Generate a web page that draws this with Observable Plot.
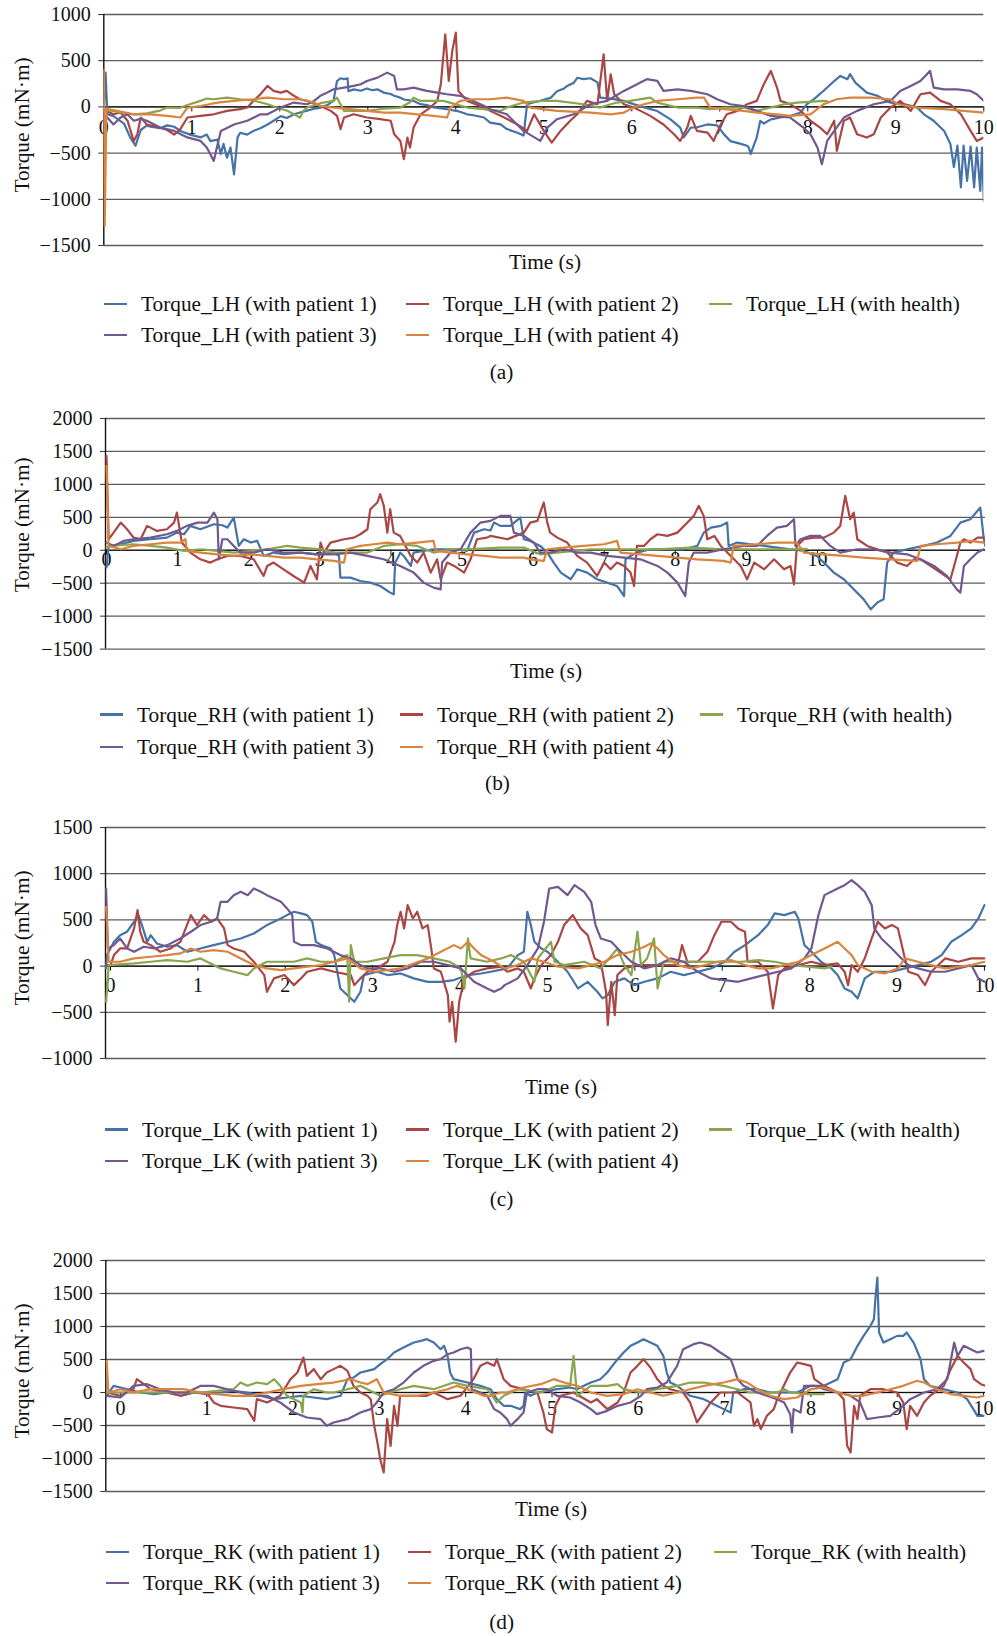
<!DOCTYPE html>
<html><head><meta charset="utf-8">
<script src="https://cdn.jsdelivr.net/npm/d3@7"></script>
<script src="https://cdn.jsdelivr.net/npm/@observablehq/plot@0.6"></script>
<style>
body{margin:0;background:#fff;}
#root{position:relative;width:997px;height:1636px;font-family:"Liberation Serif","DejaVu Serif",serif;color:#111;overflow:hidden;}
.abs{position:absolute;white-space:nowrap;font-size:21.3px;line-height:26px;height:26px;}
.sw{position:absolute;height:2.6px;width:23px;}
</style></head><body><div id="root"></div>
<script>
// ---------- categories / labels ----------
const joints = ["LH", "RH", "LK", "RK"];
const seriesNames = ["with patient 1", "with patient 2", "with health", "with patient 3", "with patient 4"];
const seriesColors = ["#4572A7", "#AA4643", "#89A54E", "#71588F", "#DB843D"];
const captions = ["(a)", "(b)", "(c)", "(d)"];
const xTicks = [0, 1, 2, 3, 4, 5, 6, 7, 8, 9, 10];
const yTicksA = [-1500, -1000, -500, 0, 500, 1000];
const yTicksB = [-1500, -1000, -500, 0, 500, 1000, 1500, 2000];
const yTicksC = [-1000, -500, 0, 500, 1000, 1500];
const yTicksD = [-1500, -1000, -500, 0, 500, 1000, 1500, 2000];

// ---------- (a) Torque_LH : [time s, torque mN·m] ----------
const lhP1 = [[0,-50],[0.02,370],[0.04,-80],[0.11,-100],[0.23,-180],[0.30,-330],[0.36,-420],[0.42,-250],[0.49,-200],[0.53,-215],[0.64,-230],[0.72,-200],[0.80,-215],[0.87,-260],[0.98,-300],[1.10,-330],[1.17,-300],[1.21,-370],[1.29,-355],[1.33,-510],[1.36,-400],[1.40,-550],[1.44,-440],[1.48,-730],[1.52,-330],[1.55,-280],[1.63,-300],[1.70,-260],[1.78,-230],[1.86,-190],[1.93,-150],[2.01,-100],[2.08,-120],[2.16,-80],[2.23,-60],[2.31,-40],[2.39,-20],[2.46,-10],[2.54,20],[2.61,65],[2.65,280],[2.69,310],[2.73,300],[2.77,310],[2.78,170],[2.84,190],[2.92,175],[2.99,200],[3.05,180],[3.11,190],[3.18,155],[3.26,140],[3.30,120],[3.37,100],[3.41,80],[3.48,70],[3.52,65],[3.60,30],[3.67,20],[3.75,-5],[3.83,-15],[3.90,-25],[4.02,-45],[4.13,-80],[4.20,-90],[4.32,-115],[4.39,-170],[4.51,-190],[4.58,-240],[4.70,-280],[4.77,-310],[4.81,30],[4.89,50],[4.96,65],[5.08,100],[5.15,170],[5.23,200],[5.27,230],[5.34,260],[5.38,315],[5.45,300],[5.53,310],[5.61,265],[5.64,100],[5.76,90],[5.91,65],[6.02,30],[6.14,-5],[6.29,-45],[6.44,-135],[6.55,-225],[6.59,-330],[6.67,-225],[6.74,-220],[6.86,-190],[6.97,-200],[7.05,-300],[7.12,-370],[7.24,-400],[7.31,-420],[7.33,-440],[7.35,-510],[7.42,-330],[7.46,-150],[7.50,-180],[7.58,-135],[7.69,-115],[7.80,-100],[7.92,-60],[7.99,30],[8.07,85],[8.18,175],[8.30,280],[8.37,335],[8.45,300],[8.48,355],[8.54,263],[8.67,155],[8.79,120],[8.94,45],[9.09,30],[9.24,-5],[9.32,-80],[9.43,-150],[9.55,-260],[9.62,-400],[9.66,-650],[9.70,-420],[9.74,-870],[9.77,-420],[9.81,-800],[9.85,-430],[9.89,-870],[9.92,-440],[9.96,-910],[9.98,-440],[10.0,-1020]];
const lhP2 = [[0,-20],[0.04,-50],[0.11,-80],[0.19,-60],[0.27,-150],[0.34,-370],[0.38,-300],[0.42,-115],[0.49,-190],[0.64,-225],[0.72,-250],[0.80,-300],[0.87,-240],[0.95,-115],[1.10,-97],[1.25,-80],[1.40,-43],[1.55,-25],[1.63,-7],[1.70,65],[1.78,137],[1.86,227],[1.93,173],[2.01,155],[2.08,173],[2.16,120],[2.23,83],[2.31,65],[2.46,10],[2.58,-43],[2.65,-97],[2.69,-240],[2.73,-115],[2.84,-80],[2.99,-115],[3.14,-133],[3.26,-150],[3.30,-296],[3.37,-368],[3.41,-566],[3.45,-332],[3.48,-440],[3.52,-224],[3.60,-80],[3.71,-7],[3.79,65],[3.83,245],[3.88,786],[3.92,281],[3.96,606],[4.00,804],[4.03,173],[4.13,65],[4.32,-7],[4.39,-43],[4.55,-115],[4.70,-190],[4.81,-260],[4.89,-80],[5.00,-260],[5.09,-386],[5.19,-260],[5.30,-150],[5.38,-80],[5.49,65],[5.61,29],[5.68,570],[5.72,65],[5.76,353],[5.80,137],[5.91,29],[6.02,-7],[6.10,-43],[6.21,-97],[6.36,-190],[6.48,-296],[6.55,-368],[6.63,-224],[6.67,-97],[6.74,-260],[6.86,-278],[6.93,-368],[7.01,-190],[7.08,-80],[7.20,-43],[7.31,29],[7.42,65],[7.50,245],[7.58,390],[7.65,209],[7.69,65],[7.80,29],[7.92,-43],[8.03,-150],[8.14,-224],[8.22,-296],[8.30,-150],[8.33,-476],[8.41,-151],[8.48,-115],[8.56,-296],[8.67,-332],[8.75,-296],[8.83,-115],[8.94,-7],[9.05,65],[9.17,-43],[9.28,137],[9.39,155],[9.51,65],[9.62,29],[9.74,-79],[9.85,-260],[9.92,-368],[10.0,-332]];
const lhH = [[0,-30],[0.08,-40],[0.19,-60],[0.34,-80],[0.49,-70],[0.64,-40],[0.72,-7],[0.87,-10],[0.95,20],[1.10,65],[1.17,90],[1.25,83],[1.40,100],[1.55,83],[1.70,70],[1.86,29],[2.01,-20],[2.08,-40],[2.16,-80],[2.23,-115],[2.27,-40],[2.31,-7],[2.46,40],[2.61,65],[2.65,100],[2.73,-43],[2.99,-43],[3.18,-20],[3.37,-7],[3.48,50],[3.52,100],[3.60,65],[3.75,65],[3.86,65],[4.13,-7],[4.51,-43],[4.58,-7],[4.77,47],[4.96,65],[5.15,65],[5.45,29],[5.64,-7],[5.76,29],[5.83,47],[5.98,65],[6.21,100],[6.29,47],[6.52,-7],[6.74,-7],[6.89,-25],[7.05,-7],[7.27,-7],[7.42,-43],[7.73,29],[7.88,47],[8.18,65],[8.22,60]];
const lhP3 = [[0,-100],[0.04,-115],[0.11,-190],[0.19,-115],[0.27,-80],[0.34,-150],[0.42,-130],[0.49,-150],[0.64,-224],[0.80,-260],[0.95,-330],[1.10,-368],[1.17,-440],[1.25,-584],[1.29,-420],[1.33,-260],[1.48,-190],[1.63,-150],[1.78,-80],[1.86,-80],[2.01,-7],[2.16,47],[2.31,29],[2.39,65],[2.46,120],[2.54,155],[2.61,190],[2.73,209],[2.84,227],[2.92,245],[2.99,281],[3.11,317],[3.22,371],[3.30,335],[3.33,190],[3.41,190],[3.52,209],[3.67,173],[3.79,155],[3.90,137],[4.05,120],[4.20,65],[4.36,-7],[4.39,-25],[4.58,-80],[4.77,-260],[4.96,-368],[5.04,-224],[5.15,-133],[5.34,-80],[5.53,29],[5.72,65],[5.91,173],[6.06,245],[6.17,300],[6.29,281],[6.36,173],[6.52,190],[6.67,173],[6.86,137],[6.97,83],[7.12,29],[7.27,10],[7.42,-43],[7.58,-97],[7.80,-115],[7.95,-224],[8.03,-296],[8.11,-440],[8.16,-620],[8.22,-368],[8.30,-260],[8.41,-115],[8.56,-43],[8.75,29],[8.94,65],[9.05,173],[9.17,227],[9.28,281],[9.39,390],[9.43,209],[9.55,190],[9.70,190],[9.85,173],[9.92,137],[10.0,65]];
const lhP4 = [[0,400],[0.01,-1290],[0.03,-20],[0.15,-43],[0.34,-80],[0.53,-80],[0.72,-97],[0.87,-115],[0.95,-7],[1.10,10],[1.29,47],[1.48,65],[1.70,83],[1.86,100],[2.05,83],[2.23,83],[2.39,47],[2.46,10],[2.61,-7],[2.80,-25],[2.99,-43],[3.18,-61],[3.37,-61],[3.56,-80],[3.75,-97],[3.90,-115],[3.94,-7],[4.05,65],[4.20,83],[4.39,83],[4.58,100],[4.77,65],[4.85,-7],[5.15,-43],[5.53,-61],[5.76,-80],[5.91,-61],[6.02,-7],[6.14,29],[6.29,65],[6.52,83],[6.74,100],[6.82,100],[6.89,-7],[7.05,-25],[7.27,-43],[7.42,-61],[7.65,-80],[7.80,-97],[8.03,-80],[8.18,29],[8.33,83],[8.48,100],[8.71,100],[8.94,83],[9.02,29],[9.24,-7],[9.55,-25],[9.77,-43],[10.0,-61]];

// ---------- (b) Torque_RH ----------
const rhP1 = [[0,-260],[0.03,60],[0.06,66],[0.20,91],[0.38,142],[0.62,167],[0.85,192],[0.99,268],[1.09,243],[1.18,370],[1.32,319],[1.51,395],[1.63,380],[1.70,344],[1.79,496],[1.86,66],[1.93,167],[2.03,117],[2.12,142],[2.21,-86],[2.35,-35],[2.49,-60],[2.73,-35],[2.96,-61],[3.20,-35],[3.27,-86],[3.29,-415],[3.43,-415],[3.57,-466],[3.71,-491],[3.85,-542],[3.99,-643],[4.04,-669],[4.06,-187],[4.11,-86],[4.13,-35],[4.18,-86],[4.28,-238],[4.32,-35],[4.60,15],[4.79,15],[4.93,15],[5.07,-10],[5.17,268],[5.31,319],[5.40,300],[5.45,420],[5.54,370],[5.68,370],[5.82,496],[5.87,167],[5.96,142],[6.10,66],[6.20,-35],[6.29,-187],[6.39,-339],[6.53,-440],[6.62,-289],[6.76,-339],[6.90,-440],[7.04,-491],[7.18,-542],[7.28,-694],[7.30,-137],[7.37,-86],[7.46,-35],[7.65,15],[7.84,15],[8.12,15],[8.31,66],[8.40,268],[8.50,344],[8.64,370],[8.73,420],[8.75,66],[8.87,117],[9.06,91],[9.25,66],[9.43,40],[9.62,15],[9.81,-10],[9.99,-86],[10.09,-187],[10.23,-339],[10.37,-440],[10.51,-593],[10.65,-745],[10.75,-897],[10.84,-795],[10.93,-745],[10.98,-187],[11.07,-35],[11.26,15],[11.49,66],[11.68,117],[11.87,218],[12.01,420],[12.15,471],[12.29,648],[12.34,167],[12.36,66]];
const rhP2 = [[0,1434],[0.03,167],[0.10,268],[0.20,420],[0.29,319],[0.38,192],[0.48,167],[0.57,370],[0.71,294],[0.85,319],[0.95,420],[0.99,572],[1.06,117],[1.18,-35],[1.32,-137],[1.46,-187],[1.56,-137],[1.70,-86],[1.88,-86],[2.07,-137],[2.21,-390],[2.26,-238],[2.35,-187],[2.49,-289],[2.63,-390],[2.78,-491],[2.87,-238],[2.96,-441],[3.01,117],[3.06,-35],[3.15,117],[3.34,167],[3.48,192],[3.57,243],[3.67,319],[3.71,623],[3.81,725],[3.85,851],[3.90,674],[3.95,268],[3.99,623],[4.04,268],[4.13,218],[4.28,-86],[4.37,-187],[4.46,-35],[4.56,-339],[4.65,-137],[4.70,-441],[4.79,-187],[4.89,-238],[5.03,-339],[5.12,-137],[5.21,167],[5.35,192],[5.40,218],[5.64,167],[5.87,268],[5.96,420],[6.06,446],[6.15,725],[6.20,420],[6.24,268],[6.34,192],[6.48,117],[6.62,-86],[6.76,-187],[6.90,-390],[7.00,-187],[7.09,-289],[7.18,-187],[7.28,-238],[7.37,-339],[7.42,-542],[7.46,66],[7.56,66],[7.65,167],[7.75,243],[7.89,218],[8.03,268],[8.17,420],[8.26,522],[8.33,674],[8.40,522],[8.45,167],[8.55,218],[8.64,66],[8.78,-86],[8.92,-238],[9.01,-441],[9.11,-187],[9.25,-289],[9.39,-137],[9.53,-289],[9.62,-238],[9.67,-517],[9.71,66],[9.81,167],[9.95,192],[10.09,192],[10.23,268],[10.32,370],[10.39,826],[10.46,471],[10.51,572],[10.56,167],[10.70,66],[10.84,15],[10.98,-35],[11.12,-187],[11.26,-238],[11.36,-137],[11.45,-137],[11.59,-238],[11.73,-339],[11.87,-441],[11.96,-86],[12.01,117],[12.06,167],[12.15,117],[12.25,192],[12.34,192]];
const rhH = [[0,40],[0.06,66],[0.38,91],[0.62,66],[0.85,40],[1.09,-10],[1.32,15],[1.79,-35],[2.26,15],[2.54,66],[2.73,40],[3.01,15],[3.20,-35],[3.67,-35],[3.90,66],[4.13,91],[4.37,66],[4.60,-35],[4.84,15],[5.07,15],[5.54,40],[5.87,40],[6.10,-61],[6.34,-35],[6.81,15],[7.28,15],[7.75,15],[8.22,40],[8.68,15],[9.15,15],[9.62,15],[9.85,20]];
const rhP3 = [[0,117],[0.10,66],[0.24,142],[0.38,167],[0.62,192],[0.85,243],[0.99,294],[1.13,370],[1.28,420],[1.42,420],[1.51,572],[1.56,471],[1.58,-137],[1.63,167],[1.70,167],[1.79,66],[1.88,-35],[2.07,-35],[2.26,15],[2.49,-35],[2.73,-35],[2.96,-61],[3.20,-61],[3.43,-35],[3.67,-86],[3.90,-137],[4.13,-238],[4.32,-339],[4.46,-491],[4.60,-567],[4.70,-593],[4.72,-187],[4.84,-35],[4.98,15],[5.12,268],[5.26,420],[5.40,446],[5.54,522],[5.68,522],[5.73,268],[5.87,218],[6.01,117],[6.10,-35],[6.24,-35],[6.43,15],[6.62,-35],[6.81,-35],[7.04,-86],[7.28,-111],[7.51,-137],[7.75,-238],[7.89,-339],[8.03,-491],[8.14,-694],[8.19,-187],[8.26,-35],[8.45,-35],[8.68,15],[8.96,66],[9.15,66],[9.29,218],[9.43,344],[9.57,370],[9.67,471],[9.69,66],[9.76,167],[9.90,218],[10.04,218],[10.18,66],[10.32,-35],[10.56,15],[10.79,15],[11.03,-35],[11.26,-61],[11.45,-137],[11.64,-238],[11.82,-390],[11.96,-593],[12.01,-643],[12.06,-238],[12.15,-137],[12.25,-35],[12.34,15]];
const rhP4 = [[0,1282],[0.03,66],[0.20,15],[0.38,66],[0.62,91],[0.85,117],[1.04,117],[1.11,167],[1.13,-10],[1.32,-35],[1.56,-61],[1.79,-86],[2.03,-61],[2.26,-86],[2.49,-111],[2.73,-111],[2.96,-137],[3.20,-162],[3.34,-187],[3.38,15],[3.57,66],[3.76,91],[3.95,117],[4.13,91],[4.37,117],[4.60,142],[4.63,-10],[4.84,-35],[5.07,-61],[5.31,-86],[5.54,-111],[5.87,-111],[5.96,-137],[6.15,-162],[6.20,15],[6.43,40],[6.71,66],[7.00,91],[7.18,142],[7.23,-35],[7.51,-61],[7.75,-86],[8.03,-111],[8.31,-137],[8.68,-162],[8.78,-187],[8.82,66],[9.15,91],[9.43,117],[9.71,117],[9.81,-35],[10.09,-61],[10.37,-86],[10.65,-111],[11.03,-137],[11.40,-162],[11.45,66],[11.68,91],[11.96,117],[12.15,142],[12.34,117]];

// ---------- (c) Torque_LK ----------
const lkP1 = [[-0.05,-25],[-0.04,119],[0.04,263],[0.11,335],[0.19,372],[0.27,480],[0.32,552],[0.36,444],[0.42,263],[0.46,335],[0.53,245],[0.65,209],[0.76,227],[0.88,155],[1.03,191],[1.18,227],[1.34,263],[1.49,299],[1.64,353],[1.79,444],[1.95,516],[2.02,552],[2.10,588],[2.18,570],[2.25,552],[2.31,480],[2.35,263],[2.41,227],[2.52,191],[2.56,119],[2.63,-242],[2.79,-386],[2.86,-278],[2.90,-97],[3.05,-61],[3.17,-97],[3.32,-80],[3.47,-133],[3.63,-170],[3.78,-170],[3.93,-151],[4.09,-97],[4.24,-80],[4.35,-61],[4.54,-25],[4.66,119],[4.73,155],[4.77,588],[4.81,444],[4.85,263],[4.93,191],[5.00,155],[5.12,47],[5.23,-61],[5.35,-242],[5.46,-170],[5.57,-278],[5.63,-350],[5.69,-314],[5.77,-170],[5.88,-133],[5.99,-206],[6.11,-170],[6.26,-133],[6.41,-61],[6.56,-97],[6.72,-61],[6.87,-25],[7.03,47],[7.14,155],[7.26,227],[7.41,335],[7.52,444],[7.60,570],[7.71,552],[7.83,588],[7.87,516],[7.94,227],[8.02,155],[8.13,47],[8.25,-25],[8.32,-97],[8.40,-242],[8.48,-278],[8.55,-350],[8.63,-133],[8.74,-61],[8.94,-61],[9.09,-25],[9.24,11],[9.39,47],[9.51,119],[9.62,263],[9.74,335],[9.85,408],[9.93,516],[10.0,660]];
const lkP2 = [[-0.05,11],[0,11],[0.04,119],[0.11,191],[0.19,191],[0.27,408],[0.31,606],[0.34,372],[0.38,263],[0.46,227],[0.57,155],[0.69,191],[0.80,263],[0.92,552],[0.99,444],[1.07,552],[1.15,480],[1.22,516],[1.30,408],[1.34,227],[1.41,191],[1.53,155],[1.64,47],[1.76,-97],[1.79,-278],[1.87,-133],[1.99,-97],[2.10,-206],[2.18,-133],[2.25,-61],[2.41,-25],[2.56,-61],[2.75,-97],[2.79,-206],[2.86,-133],[2.94,-61],[3.05,-25],[3.17,47],[3.25,263],[3.28,444],[3.32,588],[3.36,408],[3.40,660],[3.46,516],[3.51,588],[3.57,408],[3.63,444],[3.67,191],[3.70,-25],[3.78,-61],[3.86,-314],[3.88,-602],[3.91,-386],[3.95,-819],[3.99,-386],[4.05,-133],[4.16,-61],[4.31,-25],[4.47,-7],[4.54,-61],[4.66,-25],[4.73,-61],[4.81,-242],[4.85,-133],[4.93,11],[5.04,119],[5.12,263],[5.19,444],[5.29,552],[5.38,408],[5.46,335],[5.54,83],[5.61,47],[5.67,-278],[5.69,-638],[5.73,-170],[5.77,-530],[5.80,-97],[5.88,-25],[6.03,11],[6.18,11],[6.33,11],[6.49,11],[6.54,227],[6.60,47],[6.72,47],[6.83,155],[6.91,335],[6.99,480],[7.10,480],[7.18,408],[7.26,372],[7.29,47],[7.41,47],[7.52,-61],[7.58,-458],[7.64,-97],[7.71,-25],[7.87,11],[8.02,47],[8.17,11],[8.32,29],[8.40,-61],[8.44,-206],[8.48,11],[8.55,-61],[8.63,83],[8.71,299],[8.78,480],[8.86,408],[8.94,444],[9.01,408],[9.09,83],[9.13,-61],[9.24,-97],[9.32,-206],[9.39,-61],[9.55,83],[9.70,47],[9.85,83],[10.0,83]];
const lkH = [[-0.05,-386],[-0.02,11],[0.27,29],[0.46,47],[0.65,65],[0.88,47],[1.03,83],[1.18,11],[1.26,-25],[1.41,-61],[1.57,-97],[1.64,-25],[1.79,47],[1.95,47],[2.10,47],[2.25,83],[2.41,47],[2.56,47],[2.71,119],[2.73,-386],[2.75,227],[2.79,47],[2.94,47],[3.13,83],[3.32,119],[3.51,119],[3.70,83],[3.88,47],[4.01,-25],[4.05,-242],[4.09,299],[4.12,83],[4.31,47],[4.47,83],[4.58,119],[4.73,47],[4.85,-170],[4.89,83],[5.04,263],[5.08,47],[5.19,11],[5.42,47],[5.61,-25],[5.80,191],[5.88,11],[5.96,-97],[6.03,372],[6.07,11],[6.14,83],[6.22,299],[6.26,-242],[6.33,47],[6.49,47],[6.64,47],[6.83,47],[7.03,47],[7.22,47],[7.41,65],[7.60,47],[7.79,11],[7.98,-7],[8.17,-25],[8.25,-7]];
const lkP3 = [[-0.05,840],[-0.03,191],[0.04,227],[0.11,299],[0.19,191],[0.27,155],[0.38,209],[0.50,191],[0.65,227],[0.80,299],[0.92,372],[1.03,444],[1.15,480],[1.22,516],[1.26,696],[1.34,696],[1.41,768],[1.49,804],[1.57,768],[1.64,840],[1.72,804],[1.79,768],[1.87,732],[1.95,696],[2.02,624],[2.08,552],[2.10,263],[2.18,227],[2.33,227],[2.48,191],[2.63,119],[2.75,83],[2.86,11],[2.94,-25],[3.09,-25],[3.25,-61],[3.40,-25],[3.55,47],[3.70,47],[3.86,11],[4.01,-25],[4.16,-170],[4.31,-242],[4.39,-278],[4.47,-242],[4.51,-206],[4.66,-133],[4.77,11],[4.89,191],[4.96,480],[5.02,840],[5.12,858],[5.23,768],[5.31,876],[5.42,804],[5.50,696],[5.55,444],[5.61,299],[5.73,263],[5.84,155],[5.96,47],[6.11,-25],[6.26,11],[6.41,83],[6.56,47],[6.72,-61],[6.87,-133],[7.03,-151],[7.18,-170],[7.33,-133],[7.48,-97],[7.64,-61],[7.79,-25],[7.94,83],[8.02,191],[8.10,552],[8.17,768],[8.32,840],[8.40,876],[8.48,931],[8.55,876],[8.63,804],[8.71,660],[8.74,408],[8.82,299],[8.94,191],[9.05,83],[9.13,11],[9.24,-25],[9.39,-61],[9.55,-61],[9.70,-25],[9.85,11],[9.93,-133],[10.0,-170]];
const lkP4 = [[-0.05,642],[-0.02,47],[0.11,47],[0.27,83],[0.46,101],[0.65,119],[0.80,137],[0.92,191],[1.03,155],[1.18,173],[1.34,155],[1.49,83],[1.64,11],[1.79,-25],[1.95,-43],[2.10,-25],[2.25,-7],[2.41,11],[2.56,47],[2.71,83],[2.86,-25],[3.02,-61],[3.17,-43],[3.32,-25],[3.47,29],[3.63,83],[3.78,155],[3.93,227],[4.01,191],[4.09,263],[4.16,191],[4.24,119],[4.39,47],[4.51,-25],[4.66,11],[4.81,83],[4.96,47],[5.12,-7],[5.35,-25],[5.50,11],[5.65,47],[5.80,119],[5.96,155],[6.11,209],[6.18,245],[6.26,191],[6.33,119],[6.49,11],[6.64,-25],[6.80,11],[6.95,47],[7.10,65],[7.26,11],[7.41,-25],[7.56,-25],[7.71,11],[7.87,47],[8.02,119],[8.17,191],[8.32,263],[8.40,191],[8.48,119],[8.55,11],[8.71,-61],[8.86,-79],[9.01,-25],[9.09,83],[9.24,47],[9.39,11],[9.55,-25],[9.70,-7],[9.85,11],[10.0,47]];

// ---------- (d) Torque_RK ----------
const rkP1 = [[-0.16,-50],[-0.08,101],[0.08,50],[0.23,0],[0.39,-25],[0.54,0],[0.70,-50],[0.85,0],[1.00,-25],[1.16,0],[1.31,25],[1.47,0],[1.62,-50],[1.78,-101],[1.93,-76],[2.09,-50],[2.24,-76],[2.39,-101],[2.55,-50],[2.63,202],[2.70,227],[2.78,303],[2.86,328],[2.94,354],[3.01,429],[3.09,505],[3.17,606],[3.24,656],[3.32,707],[3.40,757],[3.48,783],[3.55,808],[3.63,757],[3.71,656],[3.75,707],[3.79,555],[3.82,303],[3.86,202],[3.94,177],[4.02,151],[4.17,101],[4.29,50],[4.36,-101],[4.44,-202],[4.52,-202],[4.63,-252],[4.67,-202],[4.69,0],[4.75,-50],[4.83,0],[5.06,50],[5.21,76],[5.29,50],[5.37,101],[5.45,151],[5.56,202],[5.64,303],[5.76,505],[5.83,606],[5.91,707],[5.99,757],[6.06,808],[6.14,757],[6.22,707],[6.29,555],[6.33,303],[6.37,151],[6.45,101],[6.60,-50],[6.76,-101],[6.91,-202],[6.99,-252],[7.07,-303],[7.10,0],[7.22,50],[7.38,50],[7.53,0],[7.69,0],[7.84,0],[8.00,101],[8.15,101],[8.31,202],[8.38,454],[8.46,505],[8.54,707],[8.61,858],[8.69,1010],[8.73,1111],[8.75,1465],[8.77,1742],[8.79,909],[8.84,757],[8.92,808],[9.00,858],[9.07,858],[9.11,909],[9.19,757],[9.27,505],[9.31,202],[9.38,101],[9.54,50],[9.70,0],[9.81,-101],[9.93,-353],[10.0,-353]];
const rkP2 = [[-0.16,0],[0,-50],[0.15,50],[0.19,202],[0.35,50],[0.54,0],[0.70,-50],[0.85,0],[1.00,0],[1.08,-151],[1.16,-202],[1.31,-227],[1.47,-252],[1.55,-429],[1.58,-101],[1.70,-151],[1.85,-50],[1.97,202],[2.05,303],[2.12,530],[2.16,252],[2.24,354],[2.32,202],[2.39,303],[2.47,354],[2.55,404],[2.63,328],[2.70,101],[2.78,0],[2.86,-50],[2.90,-101],[2.94,-505],[2.97,-707],[3.01,-1010],[3.05,-1212],[3.09,-404],[3.13,-808],[3.17,-202],[3.21,-505],[3.24,-50],[3.40,-50],[3.55,-50],[3.63,0],[3.79,-101],[3.94,-50],[4.09,202],[4.17,404],[4.25,454],[4.33,404],[4.36,505],[4.44,202],[4.52,101],[4.67,50],[4.83,0],[4.90,-303],[4.94,-555],[5.00,-606],[5.04,-202],[5.10,-50],[5.25,0],[5.45,-151],[5.52,-101],[5.64,-252],[5.76,-151],[5.83,0],[5.91,303],[5.99,404],[6.06,505],[6.14,379],[6.22,202],[6.29,101],[6.37,50],[6.52,0],[6.60,-151],[6.68,-454],[6.76,-303],[6.84,-151],[6.95,0],[7.15,0],[7.30,-151],[7.34,-505],[7.38,-404],[7.42,-555],[7.49,-353],[7.57,-252],[7.61,-101],[7.76,303],[7.84,454],[7.92,429],[8.00,404],[8.04,202],[8.15,101],[8.31,0],[8.38,-101],[8.42,-808],[8.46,-909],[8.50,-202],[8.54,-404],[8.57,-50],[8.69,50],[8.84,50],[9.00,0],[9.07,-151],[9.11,-555],[9.15,-202],[9.23,-353],[9.31,-151],[9.38,-50],[9.54,101],[9.62,354],[9.70,555],[9.77,454],[9.85,354],[9.89,202],[9.97,126],[10.02,101]];
const rkH = [[-0.16,0],[0.15,0],[0.54,0],[0.93,0],[1.31,50],[1.39,151],[1.47,101],[1.58,151],[1.70,126],[1.78,202],[1.85,101],[1.93,-50],[2.01,-101],[2.09,-151],[2.11,-303],[2.12,-50],[2.24,50],[2.39,0],[2.47,0],[2.63,50],[2.78,101],[2.86,50],[3.01,-50],[3.24,50],[3.40,101],[3.63,50],[3.86,151],[4.02,101],[4.25,50],[4.36,-151],[4.44,-50],[4.60,50],[4.87,0],[5.06,101],[5.21,101],[5.25,555],[5.29,-50],[5.45,101],[5.64,101],[5.76,126],[5.83,50],[6.03,0],[6.22,50],[6.45,101],[6.60,151],[6.76,151],[6.99,101],[7.15,50],[7.30,0],[7.46,0],[7.61,0],[7.69,50],[7.76,0],[7.96,-25],[8.15,-25]];
const rkP3 = [[-0.16,-50],[0,-76],[0.15,101],[0.31,126],[0.46,50],[0.62,0],[0.77,0],[0.93,101],[1.08,101],[1.24,50],[1.39,0],[1.55,-50],[1.70,-50],[1.85,-151],[2.01,-303],[2.16,-379],[2.32,-404],[2.39,-505],[2.47,-454],[2.63,-404],[2.78,-303],[2.90,-252],[2.97,-151],[3.05,0],[3.17,50],[3.28,151],[3.40,303],[3.51,404],[3.63,480],[3.71,505],[3.79,580],[3.86,606],[3.94,656],[4.02,682],[4.06,656],[4.07,50],[4.17,0],[4.25,-50],[4.33,-252],[4.40,-303],[4.48,-404],[4.52,-505],[4.60,-404],[4.67,-303],[4.71,0],[4.83,50],[4.94,50],[5.06,-50],[5.21,-76],[5.33,-151],[5.45,-252],[5.52,-328],[5.64,-278],[5.76,-202],[5.91,-151],[6.03,-50],[6.10,50],[6.22,76],[6.33,151],[6.45,404],[6.52,656],[6.64,732],[6.72,757],[6.84,707],[6.95,606],[7.07,505],[7.10,404],[7.15,202],[7.22,101],[7.38,0],[7.49,-50],[7.61,-101],[7.69,-151],[7.76,-328],[7.78,-606],[7.80,-252],[7.88,-303],[7.92,101],[8.04,101],[8.15,50],[8.31,0],[8.46,-50],[8.57,-151],[8.65,-404],[8.77,-379],[8.92,-353],[9.07,-202],[9.15,-101],[9.31,0],[9.46,50],[9.58,202],[9.66,757],[9.70,555],[9.77,707],[9.85,656],[9.93,606],[10.0,631]];
const rkP4 = [[-0.16,480],[-0.14,0],[0,50],[0.15,0],[0.35,50],[0.54,50],[0.73,50],[0.93,0],[1.12,-25],[1.31,-50],[1.51,-50],[1.70,0],[1.89,50],[2.09,101],[2.28,126],[2.47,151],[2.67,202],[2.78,151],[2.86,126],[2.97,202],[3.05,0],[3.24,-50],[3.44,-50],[3.63,0],[3.79,50],[3.90,101],[4.02,50],[4.21,-50],[4.29,-50],[4.40,0],[4.48,0],[4.67,76],[4.87,126],[5.02,202],[5.14,151],[5.29,101],[5.45,0],[5.64,-50],[5.83,-25],[5.99,50],[6.14,0],[6.29,-50],[6.45,0],[6.60,50],[6.76,101],[6.99,151],[7.15,202],[7.26,151],[7.38,50],[7.53,-50],[7.69,-101],[7.84,-76],[8.00,50],[8.15,76],[8.31,0],[8.46,-50],[8.61,-50],[8.77,0],[8.92,50],[9.07,101],[9.23,177],[9.31,151],[9.46,50],[9.62,-25],[9.77,-50],[9.93,-76],[10.0,-50]];

// ---------- layout ----------
const FONT = '"Liberation Serif", "DejaVu Serif", serif';
const root = document.getElementById("root");
const fmt = d => d < 0 ? "\u2212" + Math.abs(d) : String(d);

const panels = [
  {series: [lhP1, lhP2, lhH, lhP3, lhP4], yticks: yTicksA, top: 14, bottom: 245, left: 103.3, right: 983.3, xdom: [0, 10], labDy: 21, tick: 55, ylabDy: -5,
   time: [545, 262], cols: [141, 443, 746], rows: [304, 335], cap: [501.6, 372]},
  {series: [rhP1, rhP2, rhH, rhP3, rhP4], yticks: yTicksB, top: 417.7, bottom: 648.3, left: 105, right: 985, xdom: [-0.014, 12.363], labDy: 9, tick: 76, ylabDy: -9,
   time: [546, 671], cols: [137, 437, 737], rows: [714.5, 747], cap: [497.5, 783]},
  {series: [lkP1, lkP2, lkH, lkP3, lkP4], yticks: yTicksC, top: 827.3, bottom: 1058.3, left: 105, right: 985.7, xdom: [-0.057, 10.02], labDy: 19, tick: 55, ylabDy: -5,
   time: [561, 1087], cols: [142, 443, 746], rows: [1129.5, 1161], cap: [501.6, 1199.4]},
  {series: [rkP1, rkP2, rkH, rkP3, rkP4], yticks: yTicksD, top: 1260, bottom: 1491, left: 105.3, right: 985, xdom: [-0.17, 10.023], labDy: 16, tick: 76, ylabDy: -5,
   time: [551, 1509], cols: [143, 445, 751], rows: [1552, 1583], cap: [501.6, 1622]}
];

function addText(txt, x, y, center) {
  const d = document.createElement("div");
  d.className = "abs";
  d.textContent = txt;
  d.style.left = x + "px";
  d.style.top = (y - 13) + "px";
  if (center) d.style.transform = "translateX(-50%)";
  root.appendChild(d);
  return d;
}

panels.forEach((p, pi) => {
  const rows = [];
  p.series.forEach((arr, k) => arr.forEach(([t, v]) => rows.push({t, v, s: seriesNames[k]})));
  const H = p.bottom - p.top + 20;
  const y0 = p.yticks[0], y1 = p.yticks[p.yticks.length - 1];
  const svg = Plot.plot({
    width: 997, height: H,
    marginTop: 10, marginBottom: 10, marginLeft: p.left, marginRight: 997 - p.right,
    style: {fontFamily: FONT, fontSize: "20px", background: "transparent", color: "#111", overflow: "visible"},
    x: {domain: p.xdom, axis: null},
    y: {domain: [y0, y1], label: null},
    color: {domain: seriesNames, range: seriesColors},
    marks: [
      Plot.gridY(p.yticks, {stroke: "#5c5c5c", strokeOpacity: 1, strokeWidth: 1.3}),
      Plot.axisY(p.yticks, {tickSize: 5, tickPadding: 8, fontSize: 20, label: null, tickFormat: fmt, stroke: "#333"}),
      Plot.ruleX([p.xdom[0]], {stroke: "#111", strokeWidth: 1.4}),
      Plot.ruleY([0], {stroke: "#111", strokeWidth: 1.2}),
      Plot.ruleX(xTicks, {x: d => d, y1: 0, y2: -p.tick, stroke: "#111", strokeWidth: 1}),
      Plot.text(xTicks, {x: d => d, y: 0, text: d => String(d), dy: p.labDy, fontSize: 20, fill: "#111"}),
      Plot.line(rows, {x: "t", y: "v", z: "s", stroke: "s", strokeWidth: 2.2, clip: true}),
      Plot.text(["Torque (mN\u00b7m)"], {frameAnchor: "left", textAnchor: "middle", lineAnchor: "middle", rotate: -90, dx: -(p.left - 22), dy: p.ylabDy, fontSize: 21.3, fill: "#111"})
    ]
  });
  svg.style.position = "absolute";
  svg.style.left = "0px";
  svg.style.top = (p.top - 10) + "px";
  root.appendChild(svg);

  addText("Time (s)", p.time[0], p.time[1], true);
  seriesNames.forEach((name, k) => {
    const col = p.cols[k < 3 ? k : k - 3];
    const row = p.rows[k < 3 ? 0 : 1];
    const sw = document.createElement("div");
    sw.className = "sw";
    sw.style.background = seriesColors[k];
    sw.style.left = (col - 37) + "px";
    sw.style.top = (row - 1.3) + "px";
    root.appendChild(sw);
    addText("Torque_" + joints[pi] + " (" + name + ")", col, row, false);
  });
  addText(captions[pi], p.cap[0], p.cap[1], true);
});
</script></body></html>
